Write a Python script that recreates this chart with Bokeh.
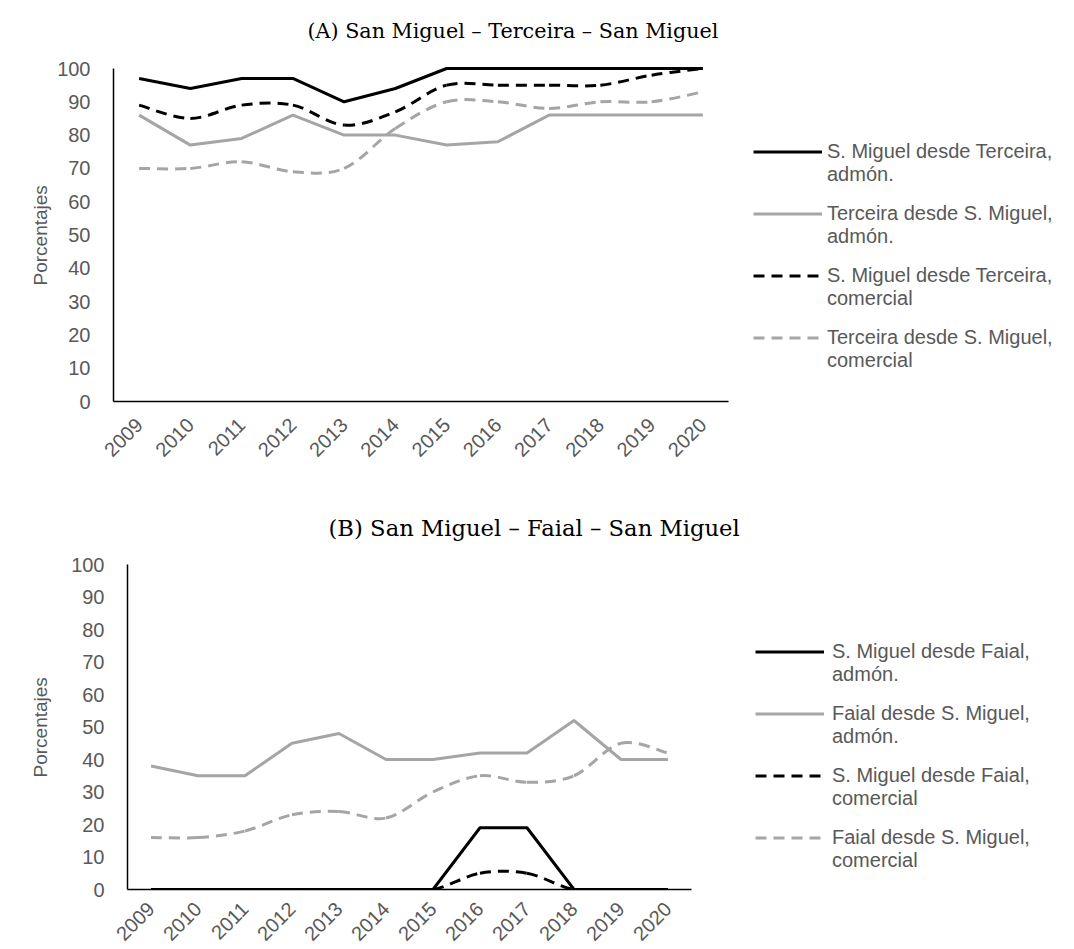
import math
from bokeh.plotting import figure
from bokeh.models import Legend, LegendItem, FixedTicker, Label, Title, Range1d, ColumnDataSource
from bokeh.embed import file_html
from bokeh.resources import INLINE

years = [2009, 2010, 2011, 2012, 2013, 2014, 2015, 2016, 2017, 2018, 2019, 2020]
y_ticks = [0, 10, 20, 30, 40, 50, 60, 70, 80, 90, 100]

# (A) San Miguel - Terceira - San Miguel
a_smig_desde_terceira_admon = [97, 94, 97, 97, 90, 94, 100, 100, 100, 100, 100, 100]
a_terceira_desde_smig_admon = [86, 77, 79, 86, 80, 80, 77, 78, 86, 86, 86, 86]
a_smig_desde_terceira_com = [89, 85, 89, 89, 83, 87, 95, 95, 95, 95, 98, 100]
a_terceira_desde_smig_com = [70, 70, 72, 69, 70, 82, 90, 90, 88, 90, 90, 93]

# (B) San Miguel - Faial - San Miguel
b_smig_desde_faial_admon = [0, 0, 0, 0, 0, 0, 0, 19, 19, 0, 0, 0]
b_faial_desde_smig_admon = [38, 35, 35, 45, 48, 40, 40, 42, 42, 52, 40, 40]
b_smig_desde_faial_com = [0, 0, 0, 0, 0, 0, 0, 5, 5, 0, 0, 0]
b_faial_desde_smig_com = [16, 16, 18, 23, 24, 22, 30, 35, 33, 35, 45, 42]

# legend texts (first line / second line)
labels_a1 = ["S. Miguel desde Terceira,", "Terceira desde S. Miguel,",
             "S. Miguel desde Terceira,", "Terceira desde S. Miguel,"]
labels_b1 = ["S. Miguel desde Faial,", "Faial desde S. Miguel,",
             "S. Miguel desde Faial,", "Faial desde S. Miguel,"]
labels_2 = ["admón.", "admón.", "comercial", "comercial"]
y_label = "Porcentajes"

BLACK = "#000000"
GRAY = "#A5A5A5"
TXT = "#595959"
SANS = "Liberation Sans"
SERIF = "DejaVu Serif"
DASH = "11 7"
FIG_W = 1058


def bezier_source(xs, ys):
    """Smoothed-line segments (Catmull-Rom style control points) from the data."""
    n = len(xs)
    d = dict(x0=[], y0=[], x1=[], y1=[], cx0=[], cy0=[], cx1=[], cy1=[])
    for i in range(n - 1):
        ip = max(i - 1, 0)
        inn = min(i + 2, n - 1)
        d["x0"].append(xs[i]); d["y0"].append(ys[i])
        d["x1"].append(xs[i + 1]); d["y1"].append(ys[i + 1])
        d["cx0"].append(xs[i] + (xs[i + 1] - xs[ip]) / 6.0)
        d["cy0"].append(ys[i] + (ys[i + 1] - ys[ip]) / 6.0)
        d["cx1"].append(xs[i + 1] - (xs[inn] - xs[i]) / 6.0)
        d["cy1"].append(ys[i + 1] - (ys[inn] - ys[i]) / 6.0)
    return ColumnDataSource(d)


def make_legend(items, loc, glyph_w, standoff, spacing):
    leg = Legend(items=items, location=loc)
    leg.glyph_width = glyph_w
    leg.glyph_height = 23
    leg.label_height = 23
    leg.label_standoff = standoff
    leg.spacing = spacing
    leg.padding = 0
    leg.margin = 0
    leg.border_line_alpha = 0
    leg.background_fill_alpha = 0
    leg.label_text_font = SANS
    leg.label_text_font_size = "20px"
    leg.label_text_color = TXT
    return leg


def make_chart(title, title_size, series, labels1, height, b_left, axis_right,
               axis_top, axis_bottom, title_x, title_y, leg_x, leg_y, leg_standoff,
               label_standoff, ylabel_offset, ylabel_standoff):
    # data area: years 2008.5..2020.5 between b_left and axis_right (px),
    # 0..100 between axis_bottom and axis_top (px); the frame extends beyond
    # so that title and legend sit inside it.
    px_per_year = (axis_right - b_left) / 12.0
    x_end = 2020.5 + (FIG_W - axis_right) / px_per_year
    px_per_unit = (axis_bottom - axis_top) / 100.0
    y_end = 100 + axis_top / px_per_unit
    p = figure(width=FIG_W, height=height,
               x_range=Range1d(2008.5, x_end), y_range=Range1d(0, y_end),
               output_backend="svg", toolbar_location=None,
               min_border_left=b_left, min_border_right=0,
               min_border_top=0, min_border_bottom=height - axis_bottom)
    p.outline_line_color = None
    p.xgrid.visible = False
    p.ygrid.visible = False
    p.background_fill_color = "white"
    p.border_fill_color = "white"

    p.xaxis.ticker = FixedTicker(ticks=years)
    p.xaxis.bounds = (2008.5, 2020.5)
    p.yaxis.ticker = FixedTicker(ticks=y_ticks)
    p.yaxis.bounds = (0, 100)
    p.xaxis.major_label_orientation = math.pi / 4
    for ax in (p.xaxis, p.yaxis):
        ax.axis_line_color = BLACK
        ax.axis_line_width = 1.5
        ax.major_tick_line_color = None
        ax.minor_tick_line_color = None
        ax.major_label_text_color = TXT
        ax.major_label_text_font = SANS
        ax.major_label_text_font_size = "20px"
    p.xaxis.major_label_standoff = label_standoff
    p.yaxis.major_label_standoff = 17

    # y-axis title, centred on the 0..100 span
    yt = Title(text=y_label, align="left", offset=ylabel_offset, standoff=ylabel_standoff,
               text_font=SANS, text_font_size="19px", text_font_style="normal",
               text_color=TXT)
    p.add_layout(yt, "left")

    s1, s2, s3, s4 = series
    r1 = p.line(years, s1, line_color=BLACK, line_width=3)
    r2 = p.line(years, s2, line_color=GRAY, line_width=3)
    r3 = p.bezier(x0="x0", y0="y0", x1="x1", y1="y1", cx0="cx0", cy0="cy0",
                  cx1="cx1", cy1="cy1", source=bezier_source(years, s3),
                  line_color=BLACK, line_width=3, line_dash=DASH)
    r4 = p.bezier(x0="x0", y0="y0", x1="x1", y1="y1", cx0="cx0", cy0="cy0",
                  cx1="cx1", cy1="cy1", source=bezier_source(years, s4),
                  line_color=GRAY, line_width=3, line_dash=DASH)
    p.renderers = [r4, r2, r3, r1]
    rends = [r1, r2, r3, r4]

    # legend: first text line with the line sample, second line below it
    spacing = 39
    leg1 = make_legend([LegendItem(label=l, renderers=[r]) for l, r in zip(labels1, rends)],
                       (leg_x, leg_y + 23), 69, leg_standoff, spacing)
    leg2 = make_legend([LegendItem(label=l, renderers=[r]) for l, r in zip(labels_2, rends)],
                       (leg_x + 69 + leg_standoff, leg_y), 0, 0, spacing)
    p.add_layout(leg1, "center")
    p.add_layout(leg2, "center")

    t = Label(x=title_x, y=title_y, x_units="screen", y_units="screen", text=title,
              text_align="left", text_baseline="middle",
              text_font=SERIF, text_font_size=title_size, text_color=BLACK)
    p.add_layout(t)
    return p


p1 = make_chart("(A) San Miguel – Terceira – San Miguel", "20.7px",
                [a_smig_desde_terceira_admon, a_terceira_desde_smig_admon,
                 a_smig_desde_terceira_com, a_terceira_desde_smig_com],
                labels_a1, height=478, b_left=113, axis_right=728, axis_top=68,
                axis_bottom=401, title_x=194, title_y=371, leg_x=640, leg_y=29,
                leg_standoff=5, label_standoff=14, ylabel_offset=116, ylabel_standoff=8)

p2 = make_chart("(B) San Miguel – Faial – San Miguel", "22.7px",
                [b_smig_desde_faial_admon, b_faial_desde_smig_admon,
                 b_smig_desde_faial_com, b_faial_desde_smig_com],
                labels_b1, height=471, b_left=127, axis_right=691, axis_top=86,
                axis_bottom=411, title_x=201, title_y=362, leg_x=628, leg_y=17,
                leg_standoff=8, label_standoff=10, ylabel_offset=112, ylabel_standoff=36)

open("out.html", "w").write(file_html([p1, p2], INLINE))
